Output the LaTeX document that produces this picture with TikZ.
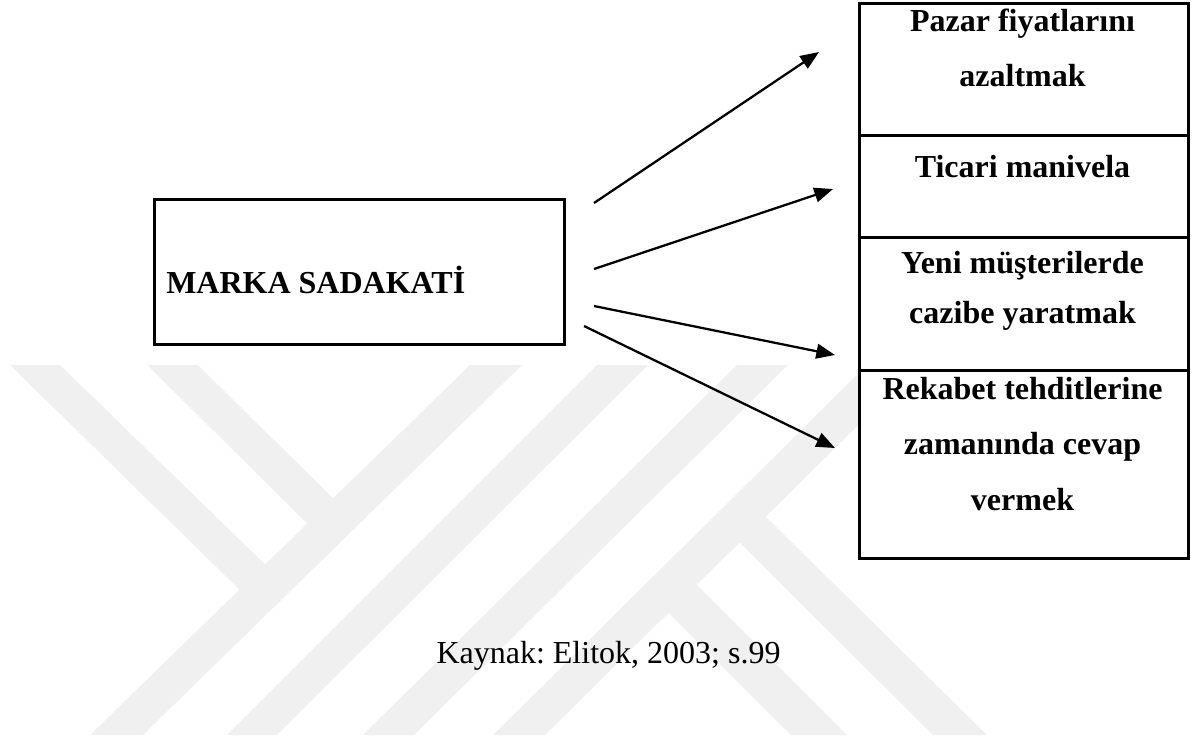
\documentclass[tikz,border=0pt]{standalone}
\usepackage{fontspec}
\setmainfont{Liberation Serif}
\usetikzlibrary{arrows.meta}
\definecolor{wm}{RGB}{240,240,240}
\frenchspacing
\begin{document}
\begin{tikzpicture}[x=0.75pt,y=-0.75pt,
  box/.style={draw=black,line width=2pt,fill=white,rectangle,inner sep=0pt,anchor=north west},
  lbl/.style={font=\fontsize{24}{28}\selectfont\bfseries,anchor=base,inner sep=0pt},
  src/.style={font=\fontsize{24}{28}\selectfont,anchor=base,inner sep=0pt},
  arr/.style={line width=1.7pt,-{Triangle[length=14pt,width=11pt]}},
  wmband/.style={fill=wm,draw=none}]
\useasboundingbox (0,0) rectangle (1192,740);
% watermark
\fill[wmband] (10,365) -- (60,365) -- (276,575) -- (250,600) -- cycle;
\fill[wmband] (147,365) -- (198,365) -- (350,515) -- (324,540) -- cycle;
\fill[wmband] (90,735) -- (143,735) -- (522,365) -- (470,365) -- cycle;
\fill[wmband] (227,735) -- (277,735) -- (648,365) -- (597,365) -- cycle;
\fill[wmband] (363,735) -- (414,735) -- (788,365) -- (737,365) -- cycle;
\fill[wmband] (493,735) -- (545,735) -- (919,365) -- (867,365) -- cycle;
\fill[wmband] (749,500) -- (987,735) -- (933,735) -- (722,525) -- cycle;
\fill[wmband] (682,570) -- (847,735) -- (791,735) -- (653,597) -- cycle;
% boxes
\node[box,minimum width=307.5pt,minimum height=108.75pt] (marka) at (153,198) {};
\node[box,minimum width=246.75pt,minimum height=99pt] (b1) at (858,2) {};
\node[box,minimum width=246.75pt,minimum height=76.5pt] (b2) at (858,134) {};
\node[box,minimum width=246.75pt,minimum height=99.75pt] (b3) at (858,236) {};
\node[box,minimum width=246.75pt,minimum height=141pt] (b4) at (858,369) {};
% texts
\node[lbl,anchor=base west] (tm) at (166,293) {MARKA SADAKATİ};
\node[lbl] (t1a) at (1022.5,31) {Pazar fiyatlarını};
\node[lbl] (t1b) at (1022.5,86) {azaltmak};
\node[lbl] (t2) at (1022.5,177) {Ticari manivela};
\node[lbl] (t3a) at (1022.5,273) {Yeni müşterilerde};
\node[lbl] (t3b) at (1022.5,323) {cazibe yaratmak};
\node[lbl] (t4a) at (1022.5,399) {Rekabet tehditlerine};
\node[lbl] (t4b) at (1022.5,454) {zamanında cevap};
\node[lbl] (t4c) at (1022.5,510) {vermek};
\node[src] (kaynak) at (608.5,663) {Kaynak: Elitok, 2003; s.99};
% arrows
\coordinate (s1) at (594,203); \coordinate (e1) at (819,52);
\coordinate (s2) at (594,269); \coordinate (e2) at (833,189);
\coordinate (s3) at (594,306); \coordinate (e3) at (835,355);
\coordinate (s4) at (584,326); \coordinate (e4) at (835,448);
\draw[arr] (s1) -- (e1);
\draw[arr] (s2) -- (e2);
\draw[arr] (s3) -- (e3);
\draw[arr] (s4) -- (e4);
\end{tikzpicture}
\end{document}
